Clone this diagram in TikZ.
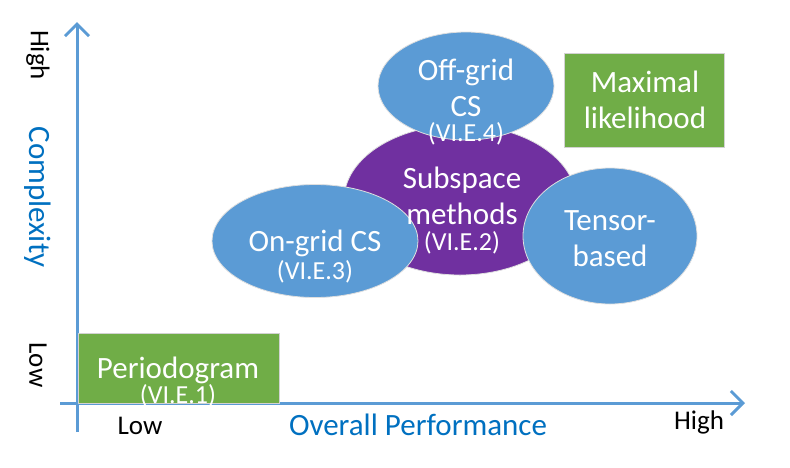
\documentclass[tikz,border=0pt]{standalone}
\usepackage{fontspec}
\setmainfont{Carlito}
\usetikzlibrary{shapes.geometric,arrows.meta}

\definecolor{axblue}{HTML}{5B9BD5}
\definecolor{axtext}{HTML}{0070C0}
\definecolor{ellblue}{HTML}{5B9BD5}
\definecolor{subpurple}{HTML}{7030A0}
\definecolor{boxgreen}{HTML}{70AD47}

\tikzset{
    axis/.style={line width=3pt, draw=axblue, -{Straight Barb[length=12pt,width=24pt,line width=3pt]}},
    blob/.style={ellipse, draw=white!75!gray, line width=0.8pt, inner sep=0pt},
    greenbox/.style={rectangle, fill=boxgreen, draw=gray!35, line width=0.8pt, inner sep=0pt},
    intext/.style={text=white, align=center, inner sep=0pt, font=\fontsize{31}{36}\selectfont},
    axlabel/.style={text=axtext, inner sep=0pt, font=\fontsize{31}{33}\selectfont},
    ticklabel/.style={text=black, inner sep=0pt, font=\fontsize{27}{29}\selectfont}
}
\newcommand{\secref}[1]{{\fontsize{26}{26}\selectfont(#1)}}

\begin{document}
\begin{tikzpicture}[x=1pt,y=-1pt]
    \useasboundingbox (0,0) rectangle (790,467);

    % axes
    \coordinate (o) at (77,403);
    \coordinate (ybot) at (77,432);
    \coordinate (ytop) at (77,22);
    \coordinate (xleft) at (60,403);
    \coordinate (xright) at (745,403);

    \draw [axis] (ybot) -- (ytop);
    \draw [axis] (xleft) -- (xright);

    % axis labels
    \node [axlabel,rotate=-90] (cplx) at (38,197) {Complexity};
    \node [ticklabel,rotate=-90] (yhigh) at (38,55) {High};
    \node [ticklabel,rotate=-90] (ylow) at (38,365) {Low};
    \node [axlabel] (perf) at (418,425) {Overall Performance};
    \node [ticklabel] (xlow) at (140,426) {Low};
    \node [ticklabel] (xhigh) at (699,422) {High};

    % boxes
    \node [greenbox,minimum width=201pt,minimum height=70pt] (pgram) at (178.5,368) {};
    \node [intext] (pgramtxt) at (178,382) {Periodogram\\[-11pt]\secref{VI.E.1}};

    \node [greenbox,minimum width=160pt,minimum height=94pt] (ml) at (644,100) {};
    \node [intext] (mltxt) at (645,100) {Maximal\\likelihood};

    % ellipses
    \node [blob,fill=subpurple,minimum width=232pt,minimum height=150pt] (sub) at (460,200) {};
    \node [blob,fill=ellblue,minimum width=206pt,minimum height=113pt] (ongrid) at (315,241) {};
    \node [blob,fill=ellblue,minimum width=174pt,minimum height=136pt] (tensor) at (610,236) {};
    \node [blob,fill=ellblue,minimum width=176pt,minimum height=108pt] (offgrid) at (466,86) {};

    \node [intext] (subtxt) at (462,211) {Subspace\\methods\\[-10pt]\secref{VI.E.2}};
    \node [intext] (ongridtxt) at (315,257) {On-grid CS\\[-8pt]\secref{VI.E.3}};
    \node [intext] (tensortxt) at (610,239) {Tensor-\\based};
    \node [intext] (offgridtxt) at (466,102) {Off-grid\\CS\\[-11pt]\secref{VI.E.4}};
\end{tikzpicture}
\end{document}
